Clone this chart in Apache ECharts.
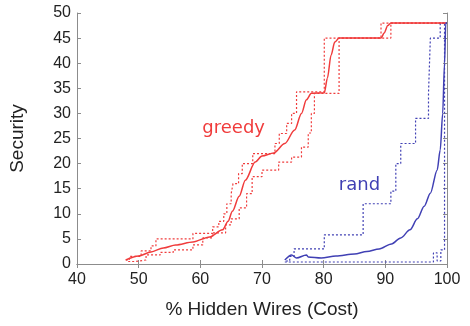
<!DOCTYPE html>
<html>
<head>
<meta charset="utf-8">
<script src="https://cdn.jsdelivr.net/npm/echarts@6/dist/echarts.min.js"></script>
<style>
  html, body { margin: 0; padding: 0; background: #fff; }
  #chart { width: 470px; height: 326px; }
</style>
</head>
<body>
<div id="chart"></div>
<script>
// x = % hidden wires, y = security
var xTicks = [40, 50, 60, 70, 80, 90, 100];
var yTicks = [0, 5, 10, 15, 20, 25, 30, 35, 40, 45, 50];

// greedy: mean (solid) and bounds (dotted step lines)
var greedyMean = [
  [47.9, 0.8], [50, 1.6], [52, 2.4], [54, 3.2], [56, 3.8], [58.8, 4.4],
  [61.5, 5.4], [63.6, 6.8], [64.5, 8.5], [65.2, 10.5], [66.3, 13.5],
  [67.3, 16.7], [68.9, 20.3], [70, 21.5], [71.9, 22.1], [73.7, 24],
  [75.3, 26.7], [76.4, 30], [77.2, 32.7], [78, 34], [80.1, 34.1],
  [80.6, 37], [81.2, 41.6], [81.8, 44.2], [82.5, 45], [89.3, 45],
  [89.8, 46], [90.4, 47.5], [90.9, 48], [100, 48]
];
var greedyUpper = [
  [47.9, 0.8], [48.5, 1.5], [50.4, 2.6], [52.0, 3.6], [52.8, 5.0],
  [58.8, 6.1], [62.0, 7.4], [63.0, 8.5], [63.8, 10], [64.3, 12],
  [65.0, 14], [65.3, 16], [66.2, 18], [66.8, 20], [68.5, 22],
  [72.1, 24], [72.8, 26], [74.0, 28], [74.8, 30], [75.6, 34.3],
  [80.1, 45], [89.3, 48], [100, 48]
];
var greedyLower = [
  [48.3, 0.5], [49.5, 0.8], [51.2, 1.8], [53.5, 2.3], [55.6, 2.8],
  [58.8, 3.8], [60.4, 5.2], [62.0, 6.2], [64.1, 7.8], [65.0, 9],
  [66.3, 11.2], [67.5, 14], [68.4, 17.4], [70.0, 18.7], [72.7, 20.3],
  [74.8, 21.3], [76.4, 23.3], [77.5, 26.1], [78.0, 30], [78.5, 34],
  [82.5, 45], [90.9, 48], [100, 48]
];

// rand: mean (solid) and bounds (dotted step lines)
var randMean = [
  [73.7, 0.8], [74.8, 1.8], [75.6, 1.2], [77.2, 1.8], [77.5, 1.4],
  [79.6, 1.2], [82, 1.6], [85, 2.0], [87, 2.5], [89, 3.0], [91, 4.0],
  [92.5, 5.2], [94, 6.8], [95.2, 9.0], [96.3, 11.5], [97.3, 14.1],
  [98.4, 18.7], [98.9, 22.7], [99.3, 30], [99.6, 40], [99.8, 48], [100, 48]
];
var randUpper = [
  [73.9, 0.6], [74.5, 1.5], [75.2, 3], [80.1, 5.8], [86.4, 12],
  [90.9, 14.5], [91.7, 20], [92.5, 24], [94.9, 29], [97.0, 34],
  [97.3, 45], [98.9, 48], [100, 48]
];
var randLower = [
  [73.7, 0.4], [97.8, 2.2], [98.4, 0.6], [99.0, 2.8], [99.6, 48], [100, 48]
];

var labelNames = ["greedy", "rand"];
var labelPos = [[65.4, 27.1], [85.8, 15.7]];

var RED = "#f03c3c";
var BLUE = "#4040b4";
var AXIS = "#8c8c8c";

function solid(data, color) {
  return {
    type: "line",
    data: data,
    showSymbol: false,
    smooth: 0.3,
    smoothMonotone: "x",
    lineStyle: { color: color, width: 1.5 },
    silent: true,
    z: 3
  };
}
function dotted(data, color) {
  return {
    type: "line",
    data: data,
    step: "end",
    showSymbol: false,
    lineStyle: { color: color, width: 1.2, type: [2, 2] },
    silent: true,
    z: 2
  };
}

var chart = echarts.init(document.getElementById("chart"));

var axisCommon = {
  type: "value",
  axisLine: { show: true, lineStyle: { color: AXIS, width: 1 } },
  axisTick: { show: true, inside: true, length: 4, lineStyle: { color: AXIS } },
  splitLine: { show: false }
};

chart.setOption({
  animation: false,
  backgroundColor: "#fff",
  grid: { left: 73, right: 23, top: 13, bottom: 62 },
  xAxis: [
    Object.assign({}, axisCommon, {
      min: 40, max: 100, interval: 10, position: "bottom",
      name: "% Hidden Wires (Cost)", nameLocation: "middle", nameGap: 36,
      nameTextStyle: { fontSize: 19, color: "#222", fontFamily: "Liberation Sans" },
      axisLabel: { fontSize: 16, color: "#222", margin: 8, fontFamily: "Liberation Sans",
        formatter: function (v) { return xTicks.indexOf(v) >= 0 ? v : ""; } }
    }),
    Object.assign({}, axisCommon, {
      min: 40, max: 100, interval: 10, position: "top", axisLabel: { show: false }
    })
  ],
  yAxis: [
    Object.assign({}, axisCommon, {
      min: 0, max: 50, interval: 5, position: "left",
      name: "Security", nameLocation: "middle", nameGap: 50,
      nameTextStyle: { fontSize: 19, color: "#222", fontFamily: "Liberation Sans" },
      axisLabel: { fontSize: 16, color: "#222", margin: 6, fontFamily: "Liberation Sans",
        formatter: function (v) { return yTicks.indexOf(v) >= 0 ? v : ""; } }
    }),
    Object.assign({}, axisCommon, {
      min: 0, max: 50, interval: 5, position: "right", axisLabel: { show: false }
    })
  ],
  series: [
    dotted(greedyUpper, RED),
    dotted(greedyLower, RED),
    solid(greedyMean, RED),
    dotted(randUpper, BLUE),
    dotted(randLower, BLUE),
    solid(randMean, BLUE),
    {
      type: "scatter",
      symbolSize: 0,
      silent: true,
      z: 5,
      itemStyle: { opacity: 1 },
      data: labelPos.map(function (p, i) {
        return {
          value: p,
          label: {
            show: true, position: "inside", formatter: labelNames[i], opacity: 1,
            color: i === 0 ? RED : BLUE, fontSize: 18, fontFamily: "DejaVu Sans"
          }
        };
      })
    }
  ]
});
</script>
</body>
</html>
